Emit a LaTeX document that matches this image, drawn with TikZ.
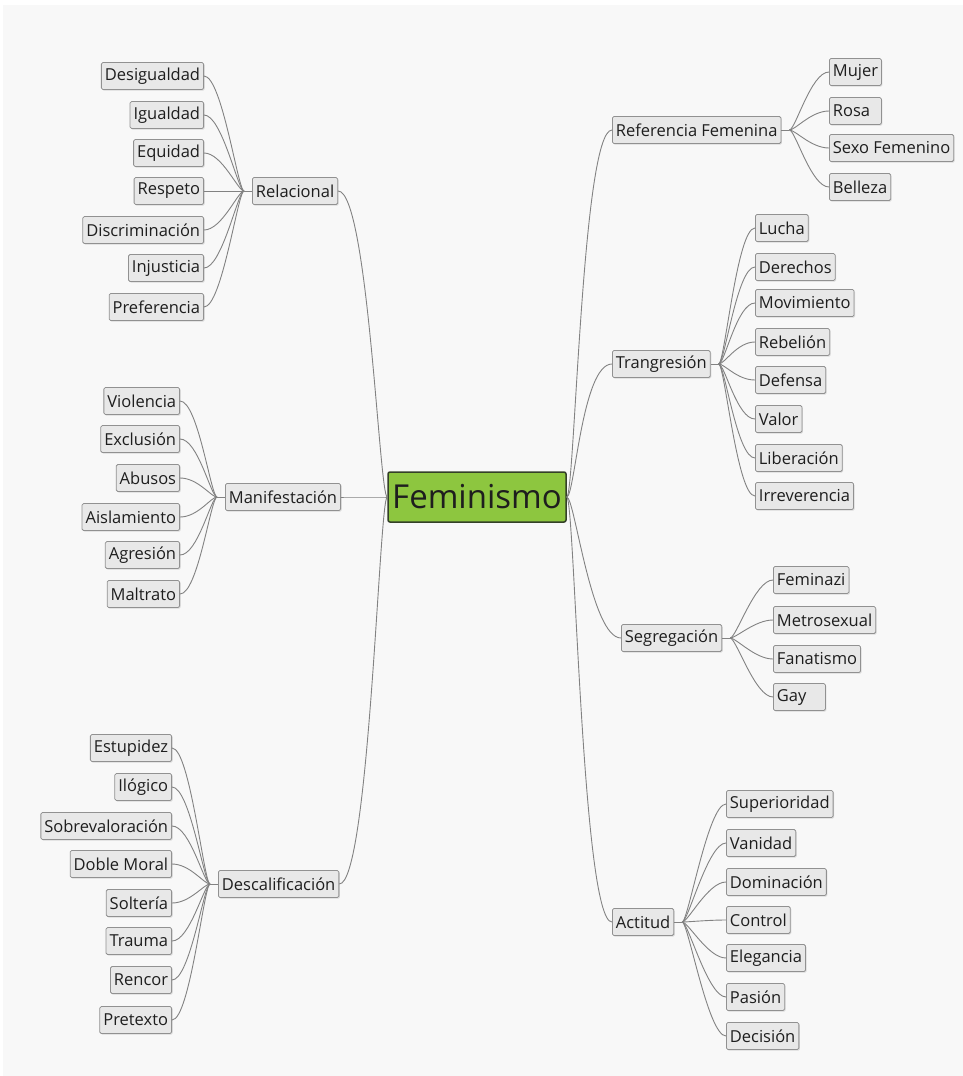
\documentclass[tikz,border=0pt]{standalone}
\usepackage{fontspec}
\setmainfont{Open Sans}
\usetikzlibrary{shadows}

\begin{document}
\begin{tikzpicture}[x=1pt,y=-1pt,
  leaf/.style={draw=mborder,line width=0.8pt,fill=mfill,rounded corners=1.5pt,inner sep=3.5pt,
    minimum height=27pt,font=\fontsize{16.5}{18}\selectfont,text=mtext,
    drop shadow={shadow xshift=1pt,shadow yshift=-1.2pt,opacity=0.25}},
  wideleaf/.style={leaf,text width=45pt,align=left},
  root/.style={draw=mdark,fill=mgreen,line width=1.5pt,rounded corners=2pt,
    minimum width=178pt,minimum height=50pt,inner sep=2pt,
    font=\fontsize{33}{36}\selectfont,text=mtext},
  link/.style={draw=mline,line width=0.9pt}]
  \definecolor{mbg}{RGB}{248,248,248}
  \definecolor{mfill}{RGB}{232,232,232}
  \definecolor{mborder}{RGB}{145,145,145}
  \definecolor{mtext}{RGB}{30,30,30}
  \definecolor{mline}{RGB}{130,130,130}
  \definecolor{mgreen}{RGB}{141,198,63}
  \definecolor{mdark}{RGB}{52,64,40}
  \useasboundingbox (0,0) rectangle (963,1076);
  \fill[mbg] (3,5) rectangle (963,1076);

  % centre
  \node[root] (fem) at (477,497) {Feminismo};

  % left branches
  \node[leaf,anchor=west] (rel) at (252,191) {Relacional};
  \node[leaf,anchor=west] (man) at (225,497) {Manifestación};
  \node[leaf,anchor=west] (desc) at (218,884) {Descalificación};
  \coordinate (relhub) at (244,191);
  \coordinate (manhub) at (217,497);
  \coordinate (deschub) at (210,884);

  % right branches
  \node[leaf,anchor=west] (ref) at (612,130) {Referencia Femenina};
  \node[leaf,anchor=west] (trg) at (612,364) {Trangresión};
  \node[leaf,anchor=west] (seg) at (621,638) {Segregación};
  \node[leaf,anchor=west] (act) at (612,922) {Actitud};
  \coordinate (refhub) at ([xshift=8pt]ref.east);
  \coordinate (trghub) at ([xshift=8pt]trg.east);
  \coordinate (seghub) at ([xshift=8pt]seg.east);
  \coordinate (acthub) at ([xshift=8pt]act.east);

  % Relacional
  \node[leaf,anchor=east] (desig) at (204,76) {Desigualdad};
  \node[leaf,anchor=east] (igual) at (204,115) {Igualdad};
  \node[leaf,anchor=east] (equi) at (204,153) {Equidad};
  \node[leaf,anchor=east] (resp) at (204,191) {Respeto};
  \node[leaf,anchor=east] (discr) at (204,230) {Discriminación};
  \node[leaf,anchor=east] (injus) at (204,268) {Injusticia};
  \node[leaf,anchor=east] (pref) at (204,307) {Preferencia};

  % Manifestacion
  \node[leaf,anchor=east] (viol) at (180,401) {Violencia};
  \node[leaf,anchor=east] (excl) at (180,439) {Exclusión};
  \node[leaf,anchor=east] (abus) at (180,478) {Abusos};
  \node[leaf,anchor=east] (aisl) at (180,517) {Aislamiento};
  \node[leaf,anchor=east] (agre) at (180,555) {Agresión};
  \node[leaf,anchor=east] (malt) at (180,594) {Maltrato};

  % Descalificacion
  \node[leaf,anchor=east] (estu) at (172,748) {Estupidez};
  \node[leaf,anchor=east] (ilog) at (172,787) {Ilógico};
  \node[leaf,anchor=east] (sobre) at (172,826) {Sobrevaloración};
  \node[leaf,anchor=east] (doble) at (172,864) {Doble Moral};
  \node[leaf,anchor=east] (solt) at (172,903) {Soltería};
  \node[leaf,anchor=east] (trau) at (172,941) {Trauma};
  \node[leaf,anchor=east] (renc) at (172,980) {Rencor};
  \node[leaf,anchor=east] (pret) at (172,1020) {Pretexto};

  % Referencia Femenina
  \node[wideleaf,anchor=west] (mujer) at (829,72) {Mujer};
  \node[wideleaf,anchor=west] (rosa) at (829,111) {Rosa};
  \node[leaf,anchor=west] (sexo) at (829,148) {Sexo Femenino};
  \node[leaf,anchor=west] (bell) at (829,187) {Belleza};

  % Trangresion
  \node[leaf,anchor=west] (lucha) at (755,228) {Lucha};
  \node[leaf,anchor=west] (dere) at (755,267) {Derechos};
  \node[leaf,anchor=west] (movi) at (755,303) {Movimiento};
  \node[leaf,anchor=west] (rebe) at (755,342) {Rebelión};
  \node[leaf,anchor=west] (defe) at (755,380) {Defensa};
  \node[leaf,anchor=west] (valor) at (755,419) {Valor};
  \node[leaf,anchor=west] (libe) at (755,458) {Liberación};
  \node[leaf,anchor=west] (irre) at (755,496) {Irreverencia};

  % Segregacion
  \node[leaf,anchor=west] (fnazi) at (773,580) {Feminazi};
  \node[leaf,anchor=west] (metro) at (773,620) {Metrosexual};
  \node[leaf,anchor=west] (fana) at (773,659) {Fanatismo};
  \node[wideleaf,anchor=west] (gay) at (773,697) {Gay};

  % Actitud
  \node[leaf,anchor=west] (supe) at (726,804) {Superioridad};
  \node[leaf,anchor=west] (vani) at (726,843) {Vanidad};
  \node[leaf,anchor=west] (domi) at (726,882) {Dominación};
  \node[leaf,anchor=west] (contr) at (726,920) {Control};
  \node[leaf,anchor=west] (eleg) at (726,958) {Elegancia};
  \node[leaf,anchor=west] (pasi) at (726,997) {Pasión};
  \node[leaf,anchor=west] (deci) at (726,1036) {Decisión};

  % centre to branches
  \draw[link] (rel.east) .. controls +(30,0) and +(-8,0) .. (fem.west);
  \draw[link] (man.east) .. controls +(30,0) and +(-8,0) .. (fem.west);
  \draw[link] (desc.east) .. controls +(30,0) and +(-8,0) .. (fem.west);
  \draw[link] (fem.east) .. controls +(8,0) and +(-30,0) .. (ref.west);
  \draw[link] (fem.east) .. controls +(8,0) and +(-30,0) .. (trg.west);
  \draw[link] (fem.east) .. controls +(8,0) and +(-30,0) .. (seg.west);
  \draw[link] (fem.east) .. controls +(8,0) and +(-30,0) .. (act.west);

  % hubs
  \draw[link] (relhub) -- (rel.west);
  \draw[link] (manhub) -- (man.west);
  \draw[link] (deschub) -- (desc.west);
  \draw[link] (ref.east) -- (refhub);
  \draw[link] (trg.east) -- (trghub);
  \draw[link] (seg.east) -- (seghub);
  \draw[link] (act.east) -- (acthub);

  % left leaves
  \draw[link] (desig.east) .. controls +(18,0) and +(-6,0) .. (relhub);
  \draw[link] (igual.east) .. controls +(18,0) and +(-6,0) .. (relhub);
  \draw[link] (equi.east) .. controls +(18,0) and +(-6,0) .. (relhub);
  \draw[link] (resp.east) -- (relhub);
  \draw[link] (discr.east) .. controls +(18,0) and +(-6,0) .. (relhub);
  \draw[link] (injus.east) .. controls +(18,0) and +(-6,0) .. (relhub);
  \draw[link] (pref.east) .. controls +(18,0) and +(-6,0) .. (relhub);

  \draw[link] (viol.east) .. controls +(18,0) and +(-6,0) .. (manhub);
  \draw[link] (excl.east) .. controls +(18,0) and +(-6,0) .. (manhub);
  \draw[link] (abus.east) .. controls +(18,0) and +(-6,0) .. (manhub);
  \draw[link] (aisl.east) .. controls +(18,0) and +(-6,0) .. (manhub);
  \draw[link] (agre.east) .. controls +(18,0) and +(-6,0) .. (manhub);
  \draw[link] (malt.east) .. controls +(18,0) and +(-6,0) .. (manhub);

  \draw[link] (estu.east) .. controls +(18,0) and +(-6,0) .. (deschub);
  \draw[link] (ilog.east) .. controls +(18,0) and +(-6,0) .. (deschub);
  \draw[link] (sobre.east) .. controls +(18,0) and +(-6,0) .. (deschub);
  \draw[link] (doble.east) .. controls +(18,0) and +(-6,0) .. (deschub);
  \draw[link] (solt.east) .. controls +(18,0) and +(-6,0) .. (deschub);
  \draw[link] (trau.east) .. controls +(18,0) and +(-6,0) .. (deschub);
  \draw[link] (renc.east) .. controls +(18,0) and +(-6,0) .. (deschub);
  \draw[link] (pret.east) .. controls +(18,0) and +(-6,0) .. (deschub);

  % right leaves
  \draw[link] (refhub) .. controls +(6,0) and +(-18,0) .. (mujer.west);
  \draw[link] (refhub) .. controls +(6,0) and +(-18,0) .. (rosa.west);
  \draw[link] (refhub) .. controls +(6,0) and +(-18,0) .. (sexo.west);
  \draw[link] (refhub) .. controls +(6,0) and +(-18,0) .. (bell.west);

  \draw[link] (trghub) .. controls +(6,0) and +(-18,0) .. (lucha.west);
  \draw[link] (trghub) .. controls +(6,0) and +(-18,0) .. (dere.west);
  \draw[link] (trghub) .. controls +(6,0) and +(-18,0) .. (movi.west);
  \draw[link] (trghub) .. controls +(6,0) and +(-18,0) .. (rebe.west);
  \draw[link] (trghub) .. controls +(6,0) and +(-18,0) .. (defe.west);
  \draw[link] (trghub) .. controls +(6,0) and +(-18,0) .. (valor.west);
  \draw[link] (trghub) .. controls +(6,0) and +(-18,0) .. (libe.west);
  \draw[link] (trghub) .. controls +(6,0) and +(-18,0) .. (irre.west);

  \draw[link] (seghub) .. controls +(6,0) and +(-18,0) .. (fnazi.west);
  \draw[link] (seghub) .. controls +(6,0) and +(-18,0) .. (metro.west);
  \draw[link] (seghub) .. controls +(6,0) and +(-18,0) .. (fana.west);
  \draw[link] (seghub) .. controls +(6,0) and +(-18,0) .. (gay.west);

  \draw[link] (acthub) .. controls +(6,0) and +(-18,0) .. (supe.west);
  \draw[link] (acthub) .. controls +(6,0) and +(-18,0) .. (vani.west);
  \draw[link] (acthub) .. controls +(6,0) and +(-18,0) .. (domi.west);
  \draw[link] (acthub) .. controls +(6,0) and +(-18,0) .. (contr.west);
  \draw[link] (acthub) .. controls +(6,0) and +(-18,0) .. (eleg.west);
  \draw[link] (acthub) .. controls +(6,0) and +(-18,0) .. (pasi.west);
  \draw[link] (acthub) .. controls +(6,0) and +(-18,0) .. (deci.west);
\end{tikzpicture}
\end{document}
